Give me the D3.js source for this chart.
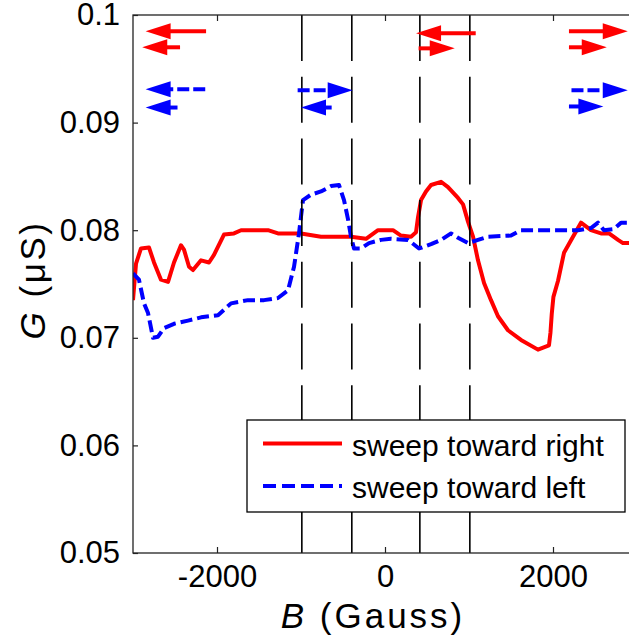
<!DOCTYPE html>
<html>
<head>
<meta charset="utf-8">
<script src="https://cdn.jsdelivr.net/npm/d3@7"></script>
<style>
  body { margin: 0; background: #fff; }
  svg { display: block; font-family: "Liberation Sans", Arial, sans-serif; }
</style>
</head>
<body>
<div id="chart"></div>
<script>
// sweep toward right (red, solid)
const redB = [-3000, -2964, -2905, -2810, -2750, -2667, -2583, -2512, -2429, -2393, -2333, -2286, -2190, -2095, -2036,
  -1917, -1798, -1714, -1393, -1274, -1000, -762, -405, -226, -83, 95, 190, 310, 369, 393, 429, 488, 548, 667, 750,
  869, 929, 988, 1048, 1107, 1179, 1262, 1345, 1464, 1619, 1821, 1952, 1970, 1985, 2005, 2060, 2131, 2238, 2333,
  2452, 2571, 2667, 2774, 2833, 2917, 3000];
const redG = [0.0735, 0.0769, 0.0783, 0.0784, 0.0770, 0.0754, 0.0752, 0.0770, 0.0786, 0.0782, 0.0766, 0.0763, 0.0772, 0.0770, 0.0777,
  0.0796, 0.0797, 0.0800, 0.0800, 0.0797, 0.0797, 0.0794, 0.0794, 0.0792, 0.0800, 0.0800, 0.0795, 0.0794, 0.0798, 0.0812, 0.0828, 0.0836, 0.0842, 0.0845, 0.0840,
  0.0830, 0.0824, 0.0808, 0.0794, 0.0772, 0.0751, 0.0735, 0.0720, 0.0707, 0.0698, 0.0689, 0.0693, 0.0705, 0.0722, 0.0738, 0.0753, 0.0779, 0.0794, 0.0807,
  0.0800, 0.0797, 0.0797, 0.0791, 0.0788, 0.0788, 0.0788];

// sweep toward left (blue, dashed)
const blueB = [-3000, -2929, -2869, -2821, -2762, -2702, -2631, -2512, -2345, -2190, -1988, -1833, -1631, -1440, -1274,
  -1155, -1083, -1024, -976, -881, -762, -643, -548, -488, -440, -405, -369, -286, -190, -48, 71, 274, 405, 548,
  667, 786, 869, 988, 1107, 1226, 1500, 1619, 1893, 2298, 2452, 2536, 2607, 2726, 2810, 2917, 3000];
const blueG = [0.0760, 0.0754, 0.0732, 0.0723, 0.0700, 0.0701, 0.0709, 0.0713, 0.0716, 0.0719, 0.0721, 0.0732, 0.0735, 0.0735, 0.0737,
  0.0744, 0.0766, 0.0797, 0.0828, 0.0833, 0.0836, 0.0841, 0.0842, 0.0828, 0.0810, 0.0794, 0.0783, 0.0783, 0.0788, 0.0791, 0.0792, 0.0791, 0.0783, 0.0787,
  0.0791, 0.0797, 0.0793, 0.0788, 0.0791, 0.0794, 0.0795, 0.0800, 0.0800, 0.0800, 0.0802, 0.0807, 0.0800, 0.0801, 0.0807, 0.0807, 0.0807];

// vertical dashed guides
const guideB = [-990, -395, 415, 1010];

// direction arrows: [from B, to B, G]
const redArrows = [[-2130, -2850, 0.0985], [-2440, -2890, 0.0970], [1080, 370, 0.0983], [400, 830, 0.0969],
  [2190, 2890, 0.0985], [2190, 2640, 0.0970]];
const blueDashedArrows = [[-2140, -2850, 0.0931], [-1040, -385, 0.0930], [2220, 2890, 0.0930]];
const blueSolidArrows = [[-2470, -2850, 0.0914], [-635, -1000, 0.0914], [2190, 2600, 0.0915]];

const xTicks = [-2000, 0, 2000];
const yTicks = [0.05, 0.06, 0.07, 0.08, 0.09, 0.1];
const legendLabels = ["sweep toward right", "sweep toward left"];

const W = 629, H = 642;
const margin = {left: 133, top: 15, right: 637, bottom: 553};

const svg = d3.select("#chart").append("svg")
  .attr("width", W).attr("height", H);
svg.append("rect").attr("width", W).attr("height", H).attr("fill", "#fff");

const x = d3.scaleLinear().domain([-3000, 3000]).range([margin.left, margin.right]);
const y = d3.scaleLinear().domain([0.05, 0.1]).range([margin.bottom, margin.top]);

svg.append("clipPath").attr("id", "plot")
  .append("rect")
  .attr("x", margin.left).attr("y", margin.top)
  .attr("width", margin.right - margin.left).attr("height", margin.bottom - margin.top);

const line = d3.line().x(d => x(d[0])).y(d => y(d[1]));

const plot = svg.append("g").attr("clip-path", "url(#plot)");

plot.append("path")
  .datum(redB.map((b, i) => [b, redG[i]]))
  .attr("fill", "none").attr("stroke", "#ff0000").attr("stroke-width", 4)
  .attr("stroke-linejoin", "round")
  .attr("d", line);

plot.append("path")
  .datum(blueB.map((b, i) => [b, blueG[i]]))
  .attr("fill", "none").attr("stroke", "#0000ff").attr("stroke-width", 4)
  .attr("stroke-dasharray", "12,5")
  .attr("stroke-linejoin", "round")
  .attr("d", line);

// guides
plot.selectAll(".guide").data(guideB).enter().append("line")
  .attr("x1", d => x(d)).attr("x2", d => x(d))
  .attr("y1", margin.top).attr("y2", margin.bottom)
  .attr("stroke", "#000").attr("stroke-width", 1.6)
  .attr("stroke-dasharray", "46,15.7");

// arrows
function drawArrow(a, color, dashed) {
  const x0 = x(a[0]), x1 = x(a[1]), yy = y(a[2]);
  const dir = x1 > x0 ? 1 : -1;
  const headLen = 25, headHalf = 8;
  const base = x1 - dir * headLen;
  plot.append("line")
    .attr("x1", x0).attr("x2", base + dir * 1).attr("y1", yy).attr("y2", yy)
    .attr("stroke", color).attr("stroke-width", 4)
    .attr("stroke-dasharray", dashed ? "12,4" : null);
  plot.append("path")
    .attr("d", `M${x1},${yy}L${base},${yy - headHalf}L${base},${yy + headHalf}Z`)
    .attr("fill", color);
}
redArrows.forEach(a => drawArrow(a, "#ff0000", false));
blueDashedArrows.forEach(a => drawArrow(a, "#0000ff", true));
blueSolidArrows.forEach(a => drawArrow(a, "#0000ff", false));

// axes box
svg.append("rect")
  .attr("x", margin.left).attr("y", margin.top)
  .attr("width", margin.right - margin.left).attr("height", margin.bottom - margin.top)
  .attr("fill", "none").attr("stroke", "#222").attr("stroke-width", 1.3);

const xAxis = svg.append("g")
  .attr("transform", `translate(0,${margin.bottom})`)
  .call(d3.axisBottom(x).tickValues(xTicks).tickSize(-6).tickPadding(12).tickFormat(d => String(d)));
const xTop = svg.append("g")
  .attr("transform", `translate(0,${margin.top})`)
  .call(d3.axisTop(x).tickValues(xTicks).tickSize(-6).tickFormat(""));
const yAxis = svg.append("g")
  .attr("transform", `translate(${margin.left},0)`)
  .call(d3.axisLeft(y).tickValues(yTicks).tickSize(-5).tickPadding(13).tickFormat(d => String(+d.toFixed(2))));

[xAxis, xTop, yAxis].forEach(g => {
  g.select(".domain").remove();
  g.selectAll(".tick line").attr("stroke", "#222").attr("stroke-width", 1.2);
  g.selectAll("text").attr("fill", "#000").style("font-size", "31px")
    .style("font-family", "'Liberation Sans', Arial, sans-serif");
});

// axis labels
svg.append("text")
  .attr("x", 373).attr("y", 628)
  .attr("text-anchor", "middle")
  .style("font-size", "35px")
  .style("letter-spacing", "3px")
  .html('<tspan font-style="italic">B</tspan> (Gauss)');

svg.append("text")
  .attr("transform", "translate(45,280) rotate(-90)")
  .attr("text-anchor", "middle")
  .style("font-size", "35px")
  .style("letter-spacing", "2.5px")
  .html('<tspan font-style="italic">G</tspan> (μS)');

// legend
const leg = svg.append("g");
leg.append("rect")
  .attr("x", 247).attr("y", 420).attr("width", 378).attr("height", 92)
  .attr("fill", "#fff").attr("stroke", "#000").attr("stroke-width", 1.3);
const legStyles = [{color: "#ff0000", dash: null}, {color: "#0000ff", dash: "13,6"}];
legendLabels.forEach((label, i) => {
  const ly = 443.5 + i * 42.5;
  leg.append("line")
    .attr("x1", 263).attr("x2", 342).attr("y1", ly).attr("y2", ly)
    .attr("stroke", legStyles[i].color).attr("stroke-width", 4)
    .attr("stroke-dasharray", legStyles[i].dash);
  leg.append("text")
    .attr("x", 352).attr("y", ly + 12)
    .style("font-size", "30px")
    .text(label);
});
</script>
</body>
</html>
